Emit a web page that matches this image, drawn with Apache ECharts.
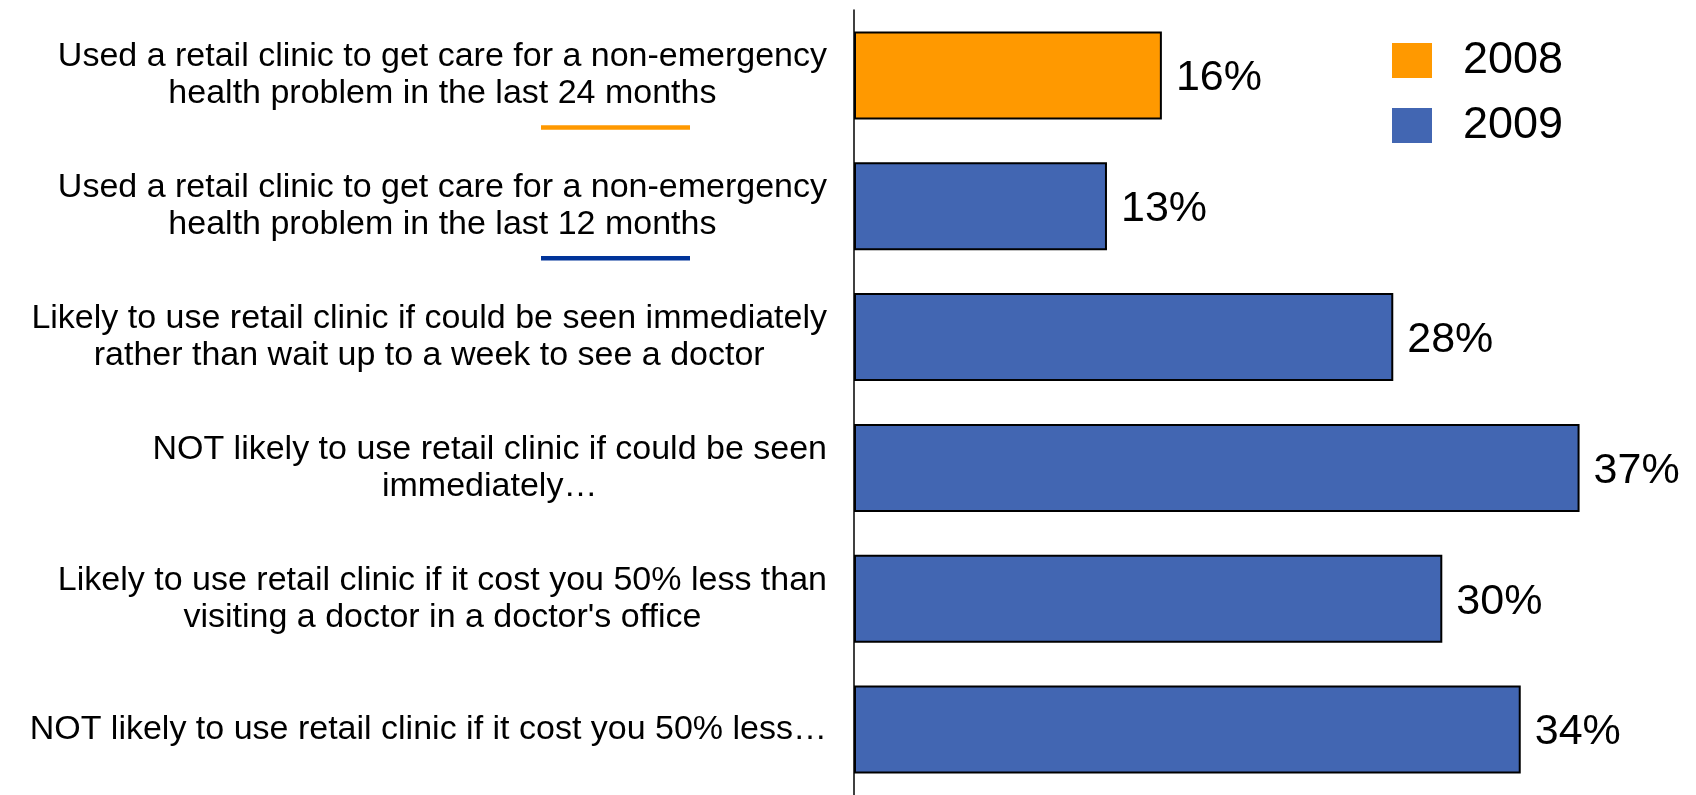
<!DOCTYPE html>
<html>
<head>
<meta charset="utf-8">
<title>Retail clinic use</title>
<script src="https://cdn.jsdelivr.net/npm/echarts@6/dist/echarts.min.js"></script>
<style>
  html, body { margin: 0; padding: 0; background: #fff; }
  #chart { width: 1696px; height: 795px; }
</style>
</head>
<body>
<div id="chart"></div>
<script>
const categories = [
  'Used a retail clinic to get care for a non-emergency\nhealth problem in the last 24 months',
  'Used a retail clinic to get care for a non-emergency\nhealth problem in the last 12 months',
  'Likely to use retail clinic if could be seen immediately\nrather than wait up to a week to see a doctor',
  'NOT likely to use retail clinic if could be seen\nimmediately…',
  "Likely to use retail clinic if it cost you 50% less than\nvisiting a doctor in a doctor's office",
  'NOT likely to use retail clinic if it cost you 50% less…'
];
const values2008 = [15.7, null, null, null, null, null];
const values2009 = [null, 12.9, 27.5, 37.0, 30.0, 34.0];
// underline under the first two questions, colour of the matching year
const underlines = [
  { index: 0, color: '#FF9900' },
  { index: 1, color: '#003399' }
];

const FONT = '"Liberation Sans", Arial, sans-serif';
const chart = echarts.init(document.getElementById('chart'));

const barLabel = {
  show: true,
  position: 'right',
  distance: 14,
  offset: [0, 3],
  color: '#000',
  fontFamily: FONT,
  fontSize: 43,
  formatter: p => Math.round(p.value) + '%'
};

const option = {
  animation: false,
  backgroundColor: '#fff',
  legend: {
    orient: 'vertical',
    left: 1392,
    top: 38,
    padding: 0,
    itemWidth: 40,
    itemHeight: 35,
    itemGap: 20,
    icon: 'rect',
    itemStyle: { borderWidth: 0 },
    textStyle: {
      fontFamily: FONT,
      fontSize: 45,
      color: '#000',
      padding: [0, 0, 0, 26]
    },
    data: ['2008', '2009']
  },
  grid: {
    left: 854,
    top: 10,
    right: 57.6,
    bottom: -5,
    containLabel: false
  },
  xAxis: {
    type: 'value',
    min: 0,
    max: 40,
    show: false
  },
  yAxis: {
    type: 'category',
    inverse: true,
    data: categories,
    axisLine: { show: true, lineStyle: { color: '#000', width: 1.5 } },
    axisTick: { show: false },
    axisLabel: {
      margin: 27,
      align: 'right',
      formatter: v => v.split('\n').map(l => '{c|' + l + '}').join('\n'),
      rich: {
        c: {
          align: 'center',
          fontFamily: FONT,
          fontSize: 34,
          lineHeight: 37,
          color: '#000'
        }
      }
    }
  },
  series: [
    {
      name: '2008',
      type: 'bar',
      barWidth: 88,
      barGap: '-100%',
      data: values2008,
      itemStyle: { color: '#FF9900', borderColor: '#000', borderWidth: 2 },
      label: barLabel
    },
    {
      name: '2009',
      type: 'bar',
      barWidth: 88,
      data: values2009,
      itemStyle: { color: '#4266B2', borderColor: '#000', borderWidth: 2 },
      label: barLabel
    }
  ]
};

chart.setOption(option);

// short coloured rules under the first two labels
chart.setOption({
  graphic: underlines.map(u => {
    const y = chart.convertToPixel({ yAxisIndex: 0 }, categories[u.index]) + 52;
    return {
      type: 'line',
      shape: { x1: 541, y1: y, x2: 690, y2: y },
      style: { stroke: u.color, lineWidth: 4.5 }
    };
  })
});
</script>
</body>
</html>
